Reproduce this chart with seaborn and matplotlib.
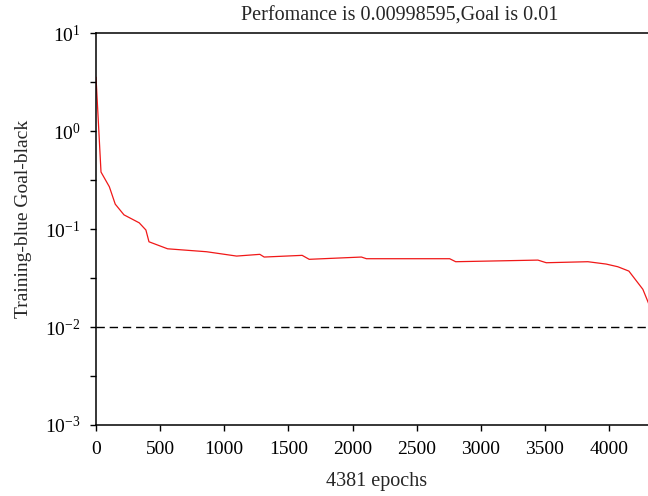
import numpy as np
import pandas as pd
import matplotlib
matplotlib.use("Agg")
import matplotlib.pyplot as plt
import seaborn as sns
from matplotlib.ticker import FixedLocator, FuncFormatter

# ---- data ----
epochs = [0, 39, 104, 150, 218, 337, 389, 413, 558, 862, 1096, 1277, 1311,
          1607, 1662, 2069, 2108, 2757, 2804, 3445, 3510, 3834, 3977, 4068,
          4154, 4263, 4297, 4381]
performance = [3.56, 0.383, 0.271, 0.180, 0.140, 0.116, 0.098, 0.0743, 0.063,
               0.0588, 0.0531, 0.0553, 0.0519, 0.054, 0.0492, 0.0519, 0.0499,
               0.0499, 0.0465, 0.0483, 0.0454, 0.0465, 0.044, 0.0413, 0.0373,
               0.0243, 0.0189, 0.00998595]
goal = 0.01
x_ticks = [0, 500, 1000, 1500, 2000, 2500, 3000, 3500, 4000]
title_text = "Perfomance is 0.00998595,Goal is 0.01"
x_label = "4381 epochs"
y_label = "Training-blue Goal-black"

sns.set_style("ticks")
plt.rcParams["font.family"] = ["Liberation Serif", "DejaVu Serif"]
plt.rcParams["mathtext.fontset"] = "custom"
plt.rcParams["mathtext.rm"] = "Liberation Serif"
plt.rcParams["mathtext.it"] = "Liberation Serif:italic"
plt.rcParams["mathtext.bf"] = "Liberation Serif:bold"

df = pd.DataFrame({"epoch": epochs, "perf": performance})

fig = plt.figure(figsize=(6.48, 4.96), dpi=100)
ax = fig.add_axes([96 / 648, 1 - 425 / 496, 562 / 648, (425 - 33.3) / 496])

sns.lineplot(data=df, x="epoch", y="perf", ax=ax, color="#f01818", linewidth=0.9)
ax.axhline(goal, color="black", linestyle=(0, (6, 3.5)), linewidth=1.0)

ax.set_yscale("log")
ax.set_ylim(1e-3, 1e1)
ax.set_xlim(0, 4381)

ax.xaxis.set_major_locator(FixedLocator(x_ticks))
ylocs = [10 ** (k / 2) for k in range(-6, 3)]
ax.yaxis.set_major_locator(FixedLocator(ylocs))
ax.yaxis.set_minor_locator(FixedLocator([]))


def yfmt(v, pos):
    e = np.log10(v)
    if abs(e - round(e)) < 1e-6:
        return r"$10^{%d}$" % int(round(e))
    return ""


ax.yaxis.set_major_formatter(FuncFormatter(yfmt))

for side in ["left", "bottom", "top", "right"]:
    ax.spines[side].set_visible(True)
    ax.spines[side].set_color("black")
    ax.spines[side].set_linewidth(1.1)

ax.tick_params(axis="both", direction="out", length=4, width=1.0,
               labelsize=14, colors="black")
ax.tick_params(axis="x", top=False, pad=7.5)
ax.tick_params(axis="y", right=False, pad=7)

ax.set_xlabel(x_label, fontsize=14.5, labelpad=10)
ax.set_ylabel(y_label, fontsize=14)
ax.yaxis.set_label_coords(-0.1144, 0.526)
fig.text(400 / 648, 1 - 16 / 496, title_text, fontsize=14.5,
         ha="center", va="center")

fig.savefig("out.png", dpi=100)
